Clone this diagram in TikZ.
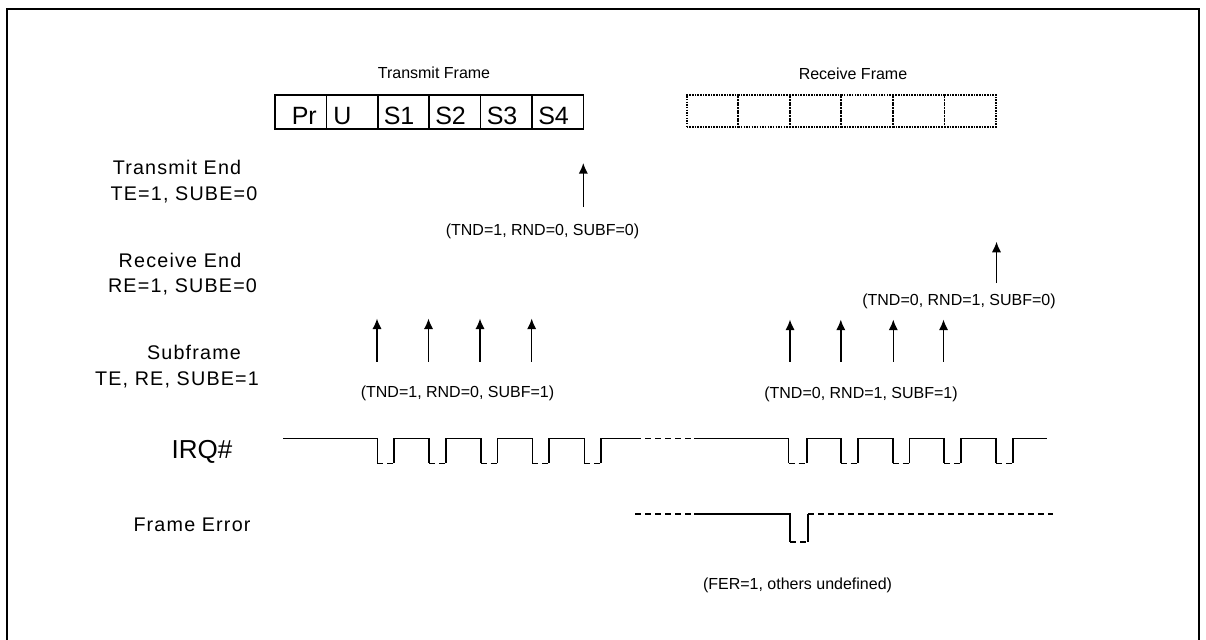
\documentclass[tikz,border=0pt]{standalone}
\usepackage{fontspec}
\setmainfont{Liberation Sans}
\newfontfamily\lblfont[LetterSpace=6]{Liberation Sans}
\usetikzlibrary{arrows.meta}
\begin{document}
\begin{tikzpicture}[x=0.75pt,y=-0.75pt,
  small/.style={inner sep=0pt,anchor=base,font=\fontsize{12pt}{13pt}\selectfont},
  lbl/.style={inner sep=0pt,anchor=base,font=\lblfont\fontsize{14.8pt}{16pt}\selectfont},
  irqlbl/.style={inner sep=0pt,anchor=base,font=\fontsize{19.5pt}{21pt}\selectfont},
  celltxt/.style={inner sep=0pt,anchor=base west,font=\fontsize{18.75pt}{20pt}\selectfont},
  tcell/.style={draw,line width=1.2pt,minimum width=38.6pt,minimum height=25.5pt,inner sep=0pt,outer sep=0pt,anchor=north west},
  rcell/.style={draw,line width=1.3pt,dash pattern=on 1.2pt off 0.8pt,minimum width=38.65pt,minimum height=23.8pt,inner sep=0pt,outer sep=0pt,anchor=north west},
  arr/.style={line width=1.1pt,-{Latex[length=8pt,width=7pt]}},
  sig/.style={line width=1.2pt},
  lowdash/.style={line width=1.2pt,dash pattern=on 4.5pt off 3pt},
  longdash/.style={line width=1.2pt,dash pattern=on 4.5pt off 3pt}
]
\useasboundingbox (0,0) rectangle (1206,639);
% outer border
\draw[line width=1.6pt] (7,640) -- (7,9) -- (1199,9) -- (1199,640);

% frame titles
\node[small] (tft) at (434,78.9) {Transmit Frame};
\node[small] (rft) at (853,79) {Receive Frame};

% transmit frame cells
\node[tcell] (t1) at (275,95) {};
\node[tcell] (t2) at (326.4,95) {};
\node[tcell] (t3) at (377.8,95) {};
\node[tcell] (t4) at (429.2,95) {};
\node[tcell] (t5) at (480.6,95) {};
\node[tcell] (t6) at (532,95) {};
\node[celltxt] (tpr) at (291.5,124.3) {Pr};
\node[celltxt] (tu) at (333,124.3) {U};
\node[celltxt] (ts1) at (383.5,124.3) {S1};
\node[celltxt] (ts2) at (435,124.3) {S2};
\node[celltxt] (ts3) at (486.5,124.3) {S3};
\node[celltxt] (ts4) at (538,124.3) {S4};

% receive frame cells
\node[rcell] (r1) at (686.7,95) {};
\node[rcell] (r2) at (738.2,95) {};
\node[rcell] (r3) at (789.8,95) {};
\node[rcell] (r4) at (841.3,95) {};
\node[rcell] (r5) at (892.9,95) {};
\node[rcell] (r6) at (944.4,95) {};

% left labels
\node[lbl] (l1) at (177,174) {Transmit End};
\node[lbl] (l2) at (184,200) {TE=1, SUBE=0};
\node[lbl] (l3) at (180,267) {Receive End};
\node[lbl] (l4) at (182.5,292.5) {RE=1, SUBE=0};
\node[lbl] (l5) at (194,359) {Subframe};
\node[lbl] (l6) at (177,385.3) {TE, RE, SUBE=1};
\node[irqlbl] (l7) at (202,458.8) {IRQ\#};
\node[lbl] (l8) at (192,531) {Frame Error};

% transmit end arrow
\coordinate (teb) at (583.3,207);
\coordinate (tet) at (583.3,163);
\draw[arr] (teb) -- (tet);
\node[small] (tel) at (542.5,235.6) {(TND=1, RND=0, SUBF=0)};

% receive end arrow
\coordinate (reb) at (996.5,283);
\coordinate (ret) at (996.5,241.7);
\draw[arr] (reb) -- (ret);
\node[small] (rel) at (959,305.6) {(TND=0, RND=1, SUBF=0)};

% subframe arrows, transmit
\foreach \i/\x in {1/377,2/428.5,3/480,4/531.7}{
  \coordinate (sb\i) at (\x,361.7);
  \coordinate (st\i) at (\x,318.5);
  \draw[arr] (sb\i) -- (st\i);
}
\node[small] (stl) at (457.5,397.3) {(TND=1, RND=0, SUBF=1)};

% subframe arrows, receive
\foreach \i/\x in {1/790,2/840.8,3/893.3,4/943.5}{
  \coordinate (rb\i) at (\x,361.7);
  \coordinate (rt\i) at (\x,319.5);
  \draw[arr] (rb\i) -- (rt\i);
}
\node[small] (srl) at (861,398.6) {(TND=0, RND=1, SUBF=1)};

% IRQ# signal
\draw[sig] (283,438.3) -- (377.3,438.3) -- (377.3,463.3);
\foreach \a/\b/\c in {377.3/394/429, 429/445.7/480.7, 480.7/497.3/532.3, 532.3/548.7/584.3}{
  \draw[lowdash] (\a,463.3) -- (\b,463.3);
  \draw[sig] (\b,463.3) -- (\b,438.3) -- (\c,438.3) -- (\c,463.3);
}
\draw[lowdash] (584.3,463.3) -- (601,463.3);
\draw[sig] (601,463.3) -- (601,438.3) -- (635,438.3);
\draw[longdash] (635,438.3) -- (694,438.3);
\draw[sig] (694,438.3) -- (788.5,438.3) -- (788.5,463.3);
\foreach \a/\b/\c in {788.5/806.7/840.7, 840.7/857.7/892.7, 892.7/909.3/944, 944/960.7/996}{
  \draw[lowdash] (\a,463.3) -- (\b,463.3);
  \draw[sig] (\b,463.3) -- (\b,438.3) -- (\c,438.3) -- (\c,463.3);
}
\draw[lowdash] (996,463.3) -- (1012.7,463.3);
\draw[sig] (1012.7,463.3) -- (1012.7,438.3) -- (1047.3,438.3);

% Frame error signal
\draw[longdash] (635,514) -- (694,514);
\draw[sig] (694,514) -- (790,514) -- (790,541.7);
\draw[lowdash] (790,541.7) -- (808,541.7);
\draw[sig] (808,541.7) -- (808,514);
\draw[longdash] (808,514) -- (1053,514);
\node[small] (fel) at (797.5,589) {(FER=1, others undefined)};
\end{tikzpicture}
\end{document}
